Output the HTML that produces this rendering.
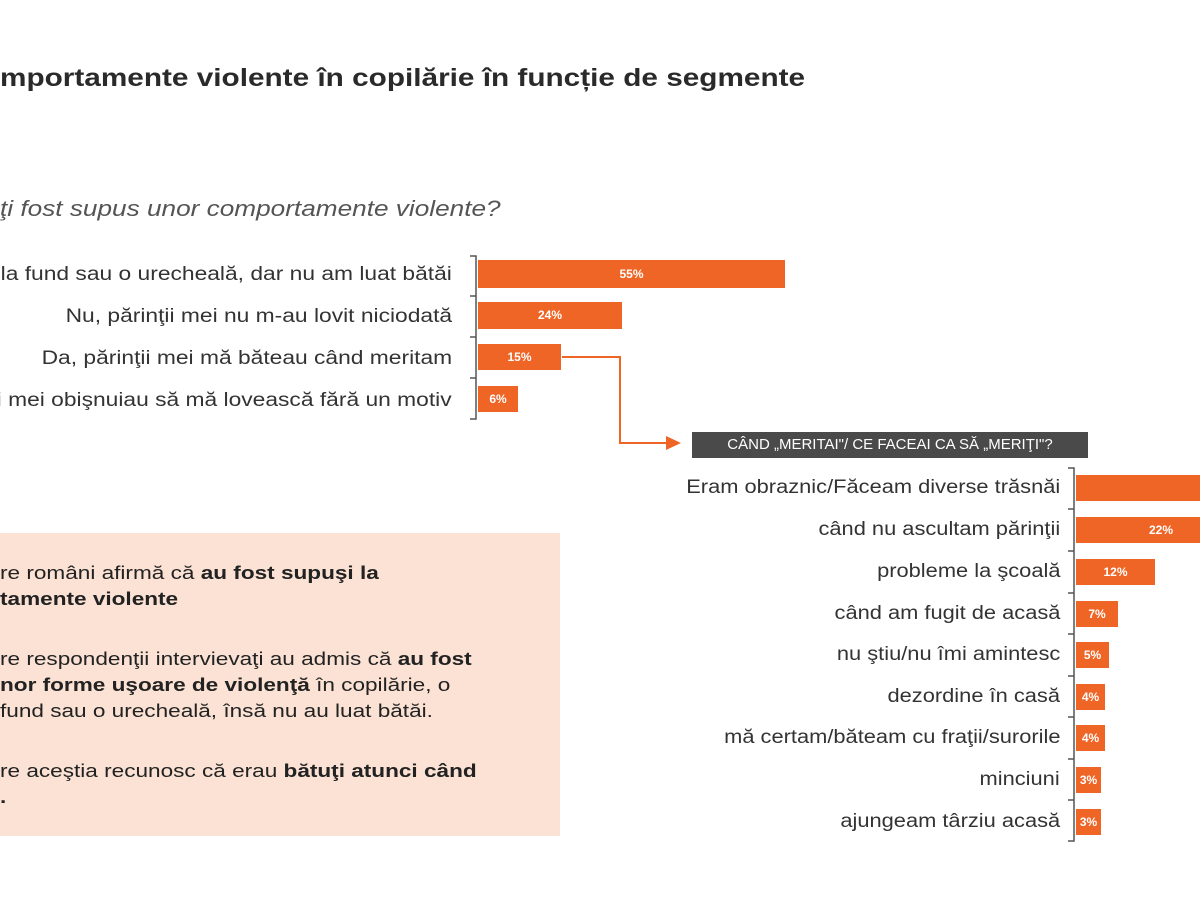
<!DOCTYPE html>
<html><head><meta charset="utf-8"><style>
body{margin:0;width:1200px;height:900px;background:#fff;position:relative;overflow:hidden;font-family:"Liberation Sans",sans-serif;color:#333}
.a{position:absolute;white-space:nowrap}
.l{position:absolute;white-space:nowrap;text-align:right;font-size:19px;color:#333;transform-origin:right center}
.t{transform:scaleX(1.2)}
.u{transform:scaleX(1.15)}
.b{position:absolute;background:#ee6526;color:#fff;font-size:12px;font-weight:bold;text-align:center}
.p{position:absolute;left:0;font-size:18.5px;color:#222;white-space:nowrap;transform:scaleX(1.22);transform-origin:left center}
</style></head><body>
<div class="a" style="left:0;top:64px;font-size:25px;font-weight:bold;color:#2a2a2a;transform:scaleX(1.19);transform-origin:left center">mportamente violente în copilărie în funcție de segmente</div>
<div class="a" style="left:0;top:196px;font-size:22px;font-style:italic;color:#555;transform:scaleX(1.19);transform-origin:left center">ţi fost supus unor comportamente violente?</div>

<svg class="a" style="left:0;top:0" width="1200" height="900">
<g stroke="#555" stroke-width="1.5" fill="none">
<path d="M470 256 H476 V419 H470 M470 296 H476 M470 337 H476 M470 378 H476"/>
<path d="M1068 468 H1074 V841 H1068 M1068 509 H1074 M1068 551 H1074 M1068 593 H1074 M1068 634 H1074 M1068 676 H1074 M1068 717 H1074 M1068 759 H1074 M1068 800 H1074"/>
</g>
<path d="M562 357 H620 V443 H668" stroke="#ee6526" stroke-width="2" fill="none"/>
<path d="M666 436 L681 443 L666 450Z" fill="#ee6526"/>
</svg>

<div class="l t" style="right:748px;top:264px">ă la fund sau o urecheală, dar nu am luat bătăi</div>
<div class="l t" style="right:748px;top:306px">Nu, părinţii mei nu m-au lovit niciodată</div>
<div class="l t" style="right:748px;top:348px">Da, părinţii mei mă băteau când meritam</div>
<div class="l t" style="right:748px;top:390px">ţii mei obişnuiau să mă lovească fără un motiv</div>
<div class="b" style="left:478px;top:260px;width:307px;height:28px;line-height:28px">55%</div>
<div class="b" style="left:478px;top:302px;width:144px;height:27px;line-height:27px">24%</div>
<div class="b" style="left:478px;top:344px;width:83px;height:26px;line-height:26px">15%</div>
<div class="b" style="left:478px;top:386px;width:40px;height:26px;line-height:26px">6%</div>

<div class="a" style="left:692px;top:432px;width:396px;height:26px;background:#4a4a4a;color:#fff;font-size:15px;line-height:26px;text-align:center">CÂND „MERITAI"/ CE FACEAI CA SĂ „MERIŢI"?</div>

<div class="l u" style="right:140px;top:477px">Eram obraznic/Făceam diverse trăsnăi</div>
<div class="l u" style="right:140px;top:519px">când nu ascultam părinţii</div>
<div class="l u" style="right:140px;top:561px">probleme la şcoală</div>
<div class="l u" style="right:140px;top:603px">când am fugit de acasă</div>
<div class="l u" style="right:140px;top:644px">nu ştiu/nu îmi amintesc</div>
<div class="l u" style="right:140px;top:686px">dezordine în casă</div>
<div class="l u" style="right:140px;top:727px">mă certam/băteam cu fraţii/surorile</div>
<div class="l u" style="right:140px;top:769px">minciuni</div>
<div class="l u" style="right:140px;top:811px">ajungeam târziu acasă</div>
<div class="b" style="left:1076px;top:475px;width:130px;height:26px"></div>
<div class="b" style="left:1076px;top:517px;width:130px;height:26px;line-height:26px;text-indent:40px">22%</div>
<div class="b" style="left:1076px;top:559px;width:79px;height:26px;line-height:26px">12%</div>
<div class="b" style="left:1076px;top:601px;width:42px;height:26px;line-height:26px">7%</div>
<div class="b" style="left:1076px;top:642px;width:33px;height:26px;line-height:26px">5%</div>
<div class="b" style="left:1076px;top:684px;width:29px;height:26px;line-height:26px">4%</div>
<div class="b" style="left:1076px;top:725px;width:29px;height:26px;line-height:26px">4%</div>
<div class="b" style="left:1076px;top:767px;width:25px;height:26px;line-height:26px">3%</div>
<div class="b" style="left:1076px;top:809px;width:25px;height:26px;line-height:26px">3%</div>

<div class="a" style="left:0;top:533px;width:560px;height:303px;background:#fbe2d4"></div>
<div class="p" style="top:562px">re români afirmă că <b>au fost supuşi la</b></div>
<div class="p" style="top:588px"><b>tamente violente</b></div>
<div class="p" style="top:648px">re respondenţii intervievaţi au admis că <b>au fost</b></div>
<div class="p" style="top:674px"><b>nor forme uşoare de violenţă</b> în copilărie, o</div>
<div class="p" style="top:700px">fund sau o urecheală, însă nu au luat bătăi.</div>
<div class="p" style="top:760px">re aceştia recunosc că erau <b>bătuţi atunci când</b></div>
<div class="p" style="top:786px"><b>.</b></div>
</body></html>
